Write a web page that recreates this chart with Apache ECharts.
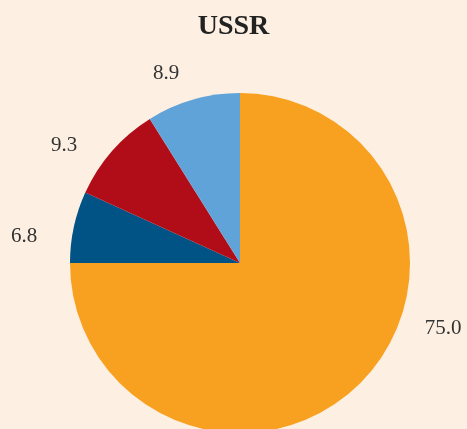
<!DOCTYPE html>
<html><head><meta charset="utf-8">
<script src="https://cdn.jsdelivr.net/npm/echarts@6/dist/echarts.min.js"></script>
<style>html,body{margin:0;padding:0;background:#fdf0e2;}#c{width:467px;height:429px;}</style>
</head><body><div id="c"></div>
<script>
var title = "USSR";
var categories = ["A", "B", "C", "D"];
var values = [75.0, 6.8, 9.3, 8.9];
var colors = ["#f8a01f", "#005384", "#b10d18", "#5fa3d9"];
// label anchor points (layout only)
var labelAnchors = [[443, 328], [24, 236], [64, 145], [166, 73]];

var chart = echarts.init(document.getElementById('c'), null, {renderer: 'canvas'});
chart.setOption({
  backgroundColor: '#fdf0e2',
  animation: false,
  title: {text: title, left: 'center', top: 8,
    textStyle: {fontFamily: 'Liberation Serif', fontWeight: 'bold', fontSize: 28, color: '#222'}},
  series: [{
    type: 'pie',
    center: [240, 263],
    radius: 170,
    startAngle: 90,
    clockwise: true,
    data: categories.map(function (c, i) { return {name: c, value: values[i], itemStyle: {color: colors[i]}}; }),
    label: {show: true, position: 'outside', formatter: function (p) { return p.value.toFixed(1); },
      fontFamily: 'Liberation Serif', fontSize: 21, color: '#333'},
    labelLine: {show: false, length: 20, length2: 10},
    labelLayout: function (p) {
      var a = labelAnchors[p.dataIndex];
      return {x: a[0], y: a[1], align: 'center', verticalAlign: 'middle'};
    },
    avoidLabelOverlap: false
  }]
});
</script></body></html>
